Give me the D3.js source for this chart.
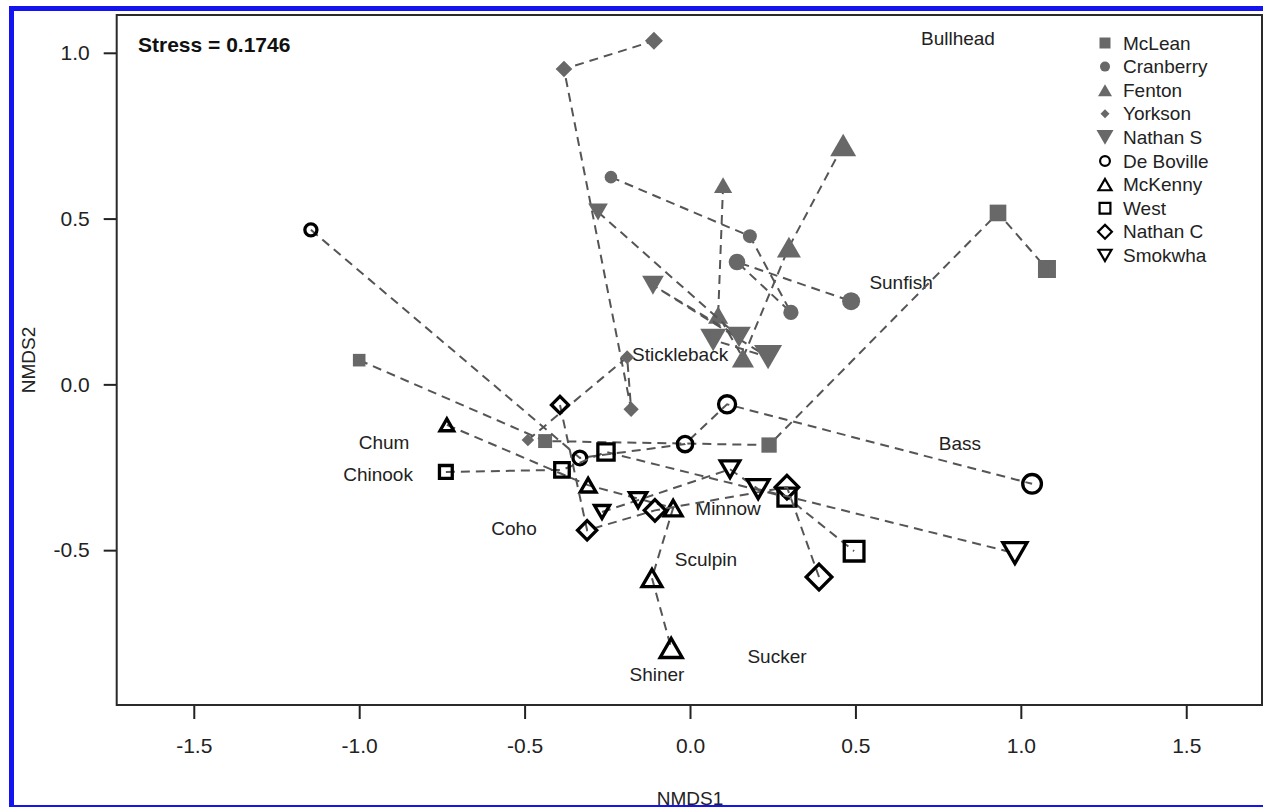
<!DOCTYPE html>
<html lang="en">
<head>
<meta charset="UTF-8">
<title>NMDS ordination</title>
<script src="https://cdn.jsdelivr.net/npm/d3@7"></script>
<style>
    body {
        margin: 0;
        background: #fff;
    }

    svg {
        display: block;
        font-family: Arial, "Liberation Sans", Helvetica, sans-serif;
    }

    .tick text {
        font-size: 21px;
        fill: #222;
    }

    .tick line {
        stroke: #222;
        stroke-width: 2;
    }

    .lab {
        font-size: 19px;
        fill: #222;
    }
</style>
</head>
<body>
<div id="graphArea"></div>
<script>
// sites, legend order
let siteNames = ['McLean', 'Cranberry', 'Fenton', 'Yorkson', 'Nathan S', 'De Boville', 'McKenny', 'West', 'Nathan C', 'Smokwha']

// NMDS scores per site, in the order the points are joined
let nmds1 = [
    [-1.00, -0.438, 0.239, 0.931, 1.079],
    [-0.239, 0.181, 0.305, 0.142, 0.487],
    [0.100, 0.085, 0.160, 0.299, 0.463],
    [-0.490, -0.190, -0.178, -0.381, -0.109],
    [-0.278, 0.148, -0.112, 0.236, 0.070],
    [-1.146, -0.333, -0.015, 0.112, 1.034],
    [-0.735, -0.308, -0.051, -0.115, -0.057],
    [-0.738, -0.387, -0.254, 0.293, 0.496],
    [-0.393, -0.311, -0.106, 0.293, 0.390],
    [-0.266, -0.157, 0.121, 0.206, 0.982]
]
let nmds2 = [
    [0.073, -0.171, -0.183, 0.517, 0.348],
    [0.625, 0.447, 0.217, 0.369, 0.251],
    [0.601, 0.209, 0.080, 0.414, 0.722],
    [-0.168, 0.082, -0.075, 0.951, 1.036],
    [0.520, 0.143, 0.299, 0.082, 0.134],
    [0.466, -0.222, -0.180, -0.060, -0.300],
    [-0.122, -0.304, -0.373, -0.584, -0.795],
    [-0.264, -0.258, -0.204, -0.340, -0.503],
    [-0.062, -0.440, -0.380, -0.310, -0.581],
    [-0.385, -0.349, -0.256, -0.316, -0.509]
]
// sampling step of each point (drawn as symbol size)
let steps = [
    [1, 2, 3, 4, 5],
    [1, 2, 3, 4, 5],
    [1, 2, 3, 4, 5],
    [1, 2, 3, 4, 5],
    [1, 3, 2, 5, 4],
    [1, 2, 3, 4, 5],
    [1, 2, 3, 4, 5],
    [1, 2, 3, 4, 5],
    [1, 2, 3, 4, 5],
    [1, 2, 3, 4, 5]
]

// species scores (labels only)
let species = ['Bullhead', 'Sunfish', 'Stickleback', 'Bass', 'Chum', 'Chinook', 'Coho', 'Minnow', 'Sculpin', 'Shiner', 'Sucker']
let speciesX = [0.810, 0.638, -0.030, 0.816, -0.925, -0.943, -0.532, 0.115, 0.048, -0.100, 0.263]
let speciesY = [1.045, 0.307, 0.092, -0.177, -0.174, -0.270, -0.433, -0.373, -0.527, -0.876, -0.819]

let xTicks = [-1.5, -1.0, -0.5, 0.0, 0.5, 1.0, 1.5]
let yTicks = [-0.5, 0.0, 0.5, 1.0]
let stress = 0.1746

// symbol per site
let siteShape = ['square', 'circle', 'triangle', 'diamond', 'down', 'circle', 'triangle', 'square', 'diamond', 'down']
let siteFilled = [true, true, true, true, true, false, false, false, false, false]
let fullWidth = {
    true: {square: 18, circle: 18, triangle: 26, diamond: 18, down: 28},
    false: {square: 23, circle: 22, triangle: 28, diamond: 29, down: 30}
}
let legendWidth = {
    true: {square: 11, circle: 10, triangle: 14, diamond: 9, down: 17},
    false: {square: 13, circle: 12, triangle: 17, diamond: 16, down: 17}
}
let grey = '#686868'

function shapePath(type, w) {
    let h = w / 2
    if (type == 'square') return `M${-h},${-h}H${h}V${h}H${-h}Z`
    if (type == 'circle') return `M${h},0A${h},${h} 0 1,1 ${-h},0A${h},${h} 0 1,1 ${h},0Z`
    if (type == 'diamond') return `M0,${-h}L${h},0L0,${h}L${-h},0Z`
    let t = w * 0.866 / 2
    if (type == 'triangle') return `M0,${-t}L${h},${t}L${-h},${t}Z`
    return `M0,${t}L${h},${-t}L${-h},${-t}Z`
}

function innerWidth(type, w, sw) {
    if (type == 'triangle' || type == 'down') return w - 1.8 * sw
    return w - sw
}

// R style labels: plain hyphen for negatives
let fmt = d => d.toFixed(1)

let width = 1263, height = 807
let svg = d3.select('#graphArea').append('svg')
    .attr('width', width)
    .attr('height', height)

let x = d3.scaleLinear().domain([-1.733, 1.729]).range([116.7, 1262])
let y = d3.scaleLinear().domain([-0.967, 1.114]).range([705, 15])
let stepScale = d3.scaleLinear().domain([1, 5]).range([0.7, 1.0])

// blue frame of the figure
svg.append('rect').attr('x', 9).attr('y', 6).attr('width', 1254).attr('height', 5).attr('fill', '#1414f0')
svg.append('rect').attr('x', 9).attr('y', 6).attr('width', 5).attr('height', 801).attr('fill', '#1414f0')
svg.append('rect').attr('x', 9).attr('y', 805).attr('width', 1254).attr('height', 2).attr('fill', '#1414f0')

// axes
let xAxis = svg.append('g')
    .attr('transform', `translate(0,${y.range()[0]})`)
    .call(d3.axisBottom(x).tickValues(xTicks).tickSize(14).tickPadding(19).tickFormat(fmt))
xAxis.select('.domain').remove()

let yAxis = svg.append('g')
    .attr('transform', `translate(${x.range()[0]},0)`)
    .call(d3.axisLeft(y).tickValues(yTicks).tickSize(13).tickPadding(14).tickFormat(fmt))
yAxis.select('.domain').remove()
svg.selectAll('.tick text').attr('font-family', null).attr('font-size', null)

// plot box
svg.append('rect')
    .attr('x', x.range()[0])
    .attr('y', y.range()[1])
    .attr('width', x.range()[1] - x.range()[0])
    .attr('height', y.range()[0] - y.range()[1])
    .attr('fill', 'none')
    .attr('stroke', '#2a2a2a')
    .attr('stroke-width', 2)

svg.append('text').attr('class', 'lab')
    .attr('x', 690).attr('y', 805)
    .attr('text-anchor', 'middle')
    .attr('font-size', 21)
    .text('NMDS1')

svg.append('text').attr('class', 'lab')
    .attr('transform', 'translate(35,360) rotate(-90)')
    .attr('text-anchor', 'middle')
    .attr('font-size', 21)
    .text('NMDS2')

svg.append('text')
    .attr('x', 138).attr('y', 52)
    .attr('font-size', 21)
    .attr('font-weight', 'bold')
    .attr('fill', '#111')
    .text('Stress = ' + stress)

// species labels
svg.append('g').selectAll('text')
    .data(species)
    .enter()
    .append('text')
    .attr('class', 'lab')
    .attr('x', (d, i) => x(speciesX[i]))
    .attr('y', (d, i) => y(speciesY[i]))
    .attr('dy', '0.35em')
    .attr('text-anchor', 'middle')
    .attr('font-size', d => d == 'Stickleback' ? 17 : 19)
    .text(d => d)

// trajectories: dashed line then symbols, one site at a time
let line = d3.line().x(d => x(d[0])).y(d => y(d[1]))
siteNames.forEach((name, s) => {
    let pts = nmds1[s].map((v, i) => [v, nmds2[s][i], steps[s][i]])
    let g = svg.append('g').attr('class', 'site')
    g.append('path')
        .attr('d', line(pts))
        .attr('fill', 'none')
        .attr('stroke', '#555')
        .attr('stroke-width', 2)
        .attr('stroke-dasharray', '9,6')

    let type = siteShape[s]
    let filled = siteFilled[s]
    g.selectAll('path.pt')
        .data(pts)
        .enter()
        .append('path')
        .attr('class', 'pt')
        .attr('transform', d => `translate(${x(d[0])},${y(d[1])})`)
        .attr('d', d => {
            let w = fullWidth[filled][type] * stepScale(d[2])
            return shapePath(type, filled ? w : innerWidth(type, w, 3.3))
        })
        .attr('fill', filled ? grey : 'none')
        .attr('stroke', filled ? 'none' : '#000')
        .attr('stroke-width', 3.3)
        .attr('stroke-linejoin', 'miter')
})

// legend
let legend = svg.append('g').selectAll('g')
    .data(siteNames)
    .enter()
    .append('g')
    .attr('transform', (d, i) => `translate(1105,${43 + i * 23.6})`)

legend.append('path')
    .attr('d', (d, i) => {
        let w = legendWidth[siteFilled[i]][siteShape[i]]
        return shapePath(siteShape[i], siteFilled[i] ? w : innerWidth(siteShape[i], w, 2.2))
    })
    .attr('fill', (d, i) => siteFilled[i] ? grey : 'none')
    .attr('stroke', (d, i) => siteFilled[i] ? 'none' : '#000')
    .attr('stroke-width', 2.2)

legend.append('text')
    .attr('class', 'lab')
    .attr('x', 18)
    .attr('dy', '0.35em')
    .text(d => d)
</script>
</body>
</html>
